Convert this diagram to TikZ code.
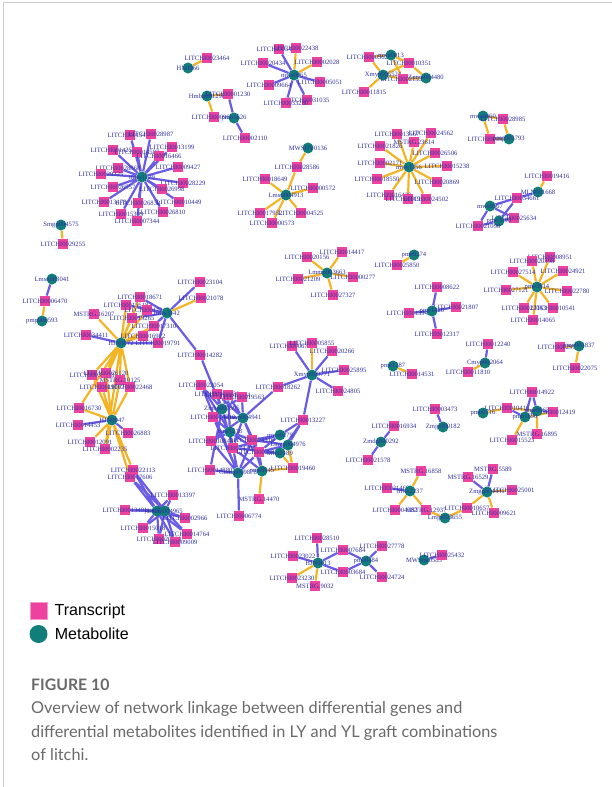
\documentclass[tikz,border=0pt]{standalone}
\usepackage{fontspec}
\setmainfont{Liberation Serif}
\newfontfamily\legfont{Liberation Sans}
\newfontfamily\capfont{Lato}
\usetikzlibrary{positioning}

\definecolor{trpink}{RGB}{238,66,160}
\definecolor{mbteal}{RGB}{18,126,122}
\definecolor{eblue}{RGB}{106,92,228}
\definecolor{eyel}{RGB}{243,181,38}
\definecolor{lblc}{RGB}{46,46,160}
\definecolor{capgray}{RGB}{105,105,105}
\definecolor{framegray}{RGB}{205,205,205}

\pgfdeclarelayer{edges}
\pgfsetlayers{edges,main}

\begin{document}
\begin{tikzpicture}[x=1pt, y=-1pt,
    tr/.style={rectangle, fill=trpink, minimum size=10.5pt, inner sep=0pt, label={[lbl]center:#1}},
    mb/.style={circle, fill=mbteal, minimum size=11pt, inner sep=0pt, label={[lbl]center:#1}},
    lbl/.style={font=\fontsize{6.6}{7}\selectfont, text=lblc, inner sep=0pt},
    be/.style={draw=eblue, line width=2.2pt},
    ye/.style={draw=eyel, line width=2.2pt},
    legtxt/.style={font=\legfont\fontsize{16}{18}\selectfont, anchor=west, inner sep=0pt},
    captxt/.style={font=\capfont\fontsize{16.3}{19}\selectfont, text=capgray, anchor=base west, inner sep=0pt}
]

\useasboundingbox (0,0) rectangle (612,787);
\draw[framegray, line width=1pt] (3.5,787) -- (3.5,2.5) -- (612,2.5);

% HN0066 pair
\node[mb=HN0066] (hn66) at (188,68) {};
\node[tr=LITCHI0023464] (t23464) at (207,58) {};

% Hmbn group
\node[mb=Hmbn001296] (hmbn) at (207,96) {};
\node[tr=LITCHI0001230] (t01230) at (228,94) {};
\node[tr=LITCHI0009613] (t09613) at (214,117) {};
\node[mb=pmb1626] (pmb1626) at (234,118) {};
\node[tr=LITCHI0002110] (t02110) at (245,138) {};

% mws1729 star
\node[tr=LITCHI0013476] (t13476) at (130,135) {};
\node[tr=LITCHI0028987] (t28987) at (151,134) {};
\node[tr=LITCHI0013199] (t13199) at (172,147) {};
\node[tr=LITCHI0014259] (t14259) at (113,150) {};
\node[tr=LITCHI0014587] (t14587) at (137,152) {};
\node[tr=LITCHI0016466] (t16466) at (159,156) {};
\node[tr=LITCHI0009427] (t09427) at (178,167) {};
\node[tr=LITCHI0028868] (t28868) at (118,168) {};
\node[tr=LITCHI0029225] (t29225) at (101,174) {};
\node[tr=LITCHI0028229] (t28229) at (183,183) {};
\node[tr=LITCHI0026998] (t26998) at (162,189) {};
\node[tr=LITCHI0026557] (t26557) at (113,187) {};
\node[tr=LITCHI0010449] (t10449) at (179,202) {};
\node[tr=LITCHI0026832] (t26832) at (138,203) {};
\node[tr=LITCHI0013478] (t13478) at (104,202) {};
\node[tr=LITCHI0026810] (t26810) at (163,212) {};
\node[tr=LITCHI0015399] (t15399) at (121,214) {};
\node[tr=LITCHI0007344] (t07344) at (137,221) {};
\node[mb=mws1729] (mws1729) at (142,177) {};

% Smgp pair
\node[mb=Smgp004575] (smgp) at (61,225) {};
\node[tr=LITCHI0029255] (t29255) at (63,244) {};

% mws0965 star
\node[tr=LITCHI0034185] (t34185) at (279,49) {};
\node[tr=LITCHI0022438] (t22438) at (296,48) {};
\node[tr=LITCHI0002028] (t02028) at (317,62) {};
\node[tr=LITCHI0020434] (t20434) at (263,63) {};
\node[tr=LITCHI0005051] (t05051) at (320,82) {};
\node[tr=LITCHI0009664] (t09664) at (269,85) {};
\node[tr=LITCHI0031035] (t31035) at (307,100) {};
\node[tr=LITCHI0033280] (t33280) at (286,103) {};
\node[mb=mws0965] (mws0965) at (294,75) {};

% Xmyp group, top right
\node[tr=LITCHI0003624] (t03624) at (369,57) {};
\node[mb=mws0013] (mws0013) at (391,55) {};
\node[tr=LITCHI0010351] (t10351) at (409,63) {};
\node[mb=Xmyp006524] (xmyp6524) at (383,75) {};
\node[tr=LITCHI0021530] (t21530) at (403,79) {};
\node[mb=Zmyp004480] (zmyp) at (426,78) {};
\node[tr=LITCHI0011815] (t11815) at (364,92) {};

% square loop
\node[mb=mws0460] (mws0460) at (483,116) {};
\node[tr=LITCHI0028985] (t28985) at (503,119) {};
\node[tr=LITCHI0009366] (t09366) at (490,139) {};
\node[mb=pmp001793] (pmp1793) at (509,139) {};

% MWSHY0136 / Lmsn004913
\node[mb=MWSHY0136] (mwshy) at (308,148) {};
\node[tr=LITCHI0028586] (t28586) at (297,167) {};
\node[tr=LITCHI0018649] (t18649) at (265,179) {};
\node[tr=LITCHI0000572] (t00572) at (313,188) {};
\node[tr=LITCHI0017952] (t17952) at (260,213) {};
\node[tr=LITCHI0004525] (t04525) at (301,213) {};
\node[tr=LITCHI0000573] (t00573) at (272,223) {};
\node[mb=Lmsn004913] (lmsn4913) at (286,195) {};

% mws1356 star
\node[tr=LITCHI0013567] (t13567) at (397,134) {};
\node[tr=LITCHI0024562] (t24562) at (431,133) {};
\node[tr=MSTRG.23614] (ms23614) at (414,142) {};
\node[tr=LITCHI0021826] (t21826) at (380,146) {};
\node[tr=LITCHI0026506] (t26506) at (435,153) {};
\node[tr=LITCHI0002171] (t02171) at (380,163) {};
\node[tr=LITCHI0015238] (t15238) at (447,166) {};
\node[tr=LITCHI0018550] (t18550) at (377,179) {};
\node[tr=LITCHI0020869] (t20869) at (437,182) {};
\node[tr=LITCHI0016420] (t16420) at (389,195) {};
\node[tr=LITCHI0019281] (t19281) at (408,199) {};
\node[tr=LITCHI0024502] (t24502) at (426,199) {};
\node[mb=mws1356] (mws1356) at (409,167) {};

% MLN001668 group
\node[tr=LITCHI0019416] (t19416) at (547,176) {};
\node[mb=MLN001668] (mln) at (538,192) {};
\node[tr=LITCHI0034661] (t34661) at (517,198) {};
\node[mb=mws0567] (mws0567) at (490,206) {};
\node[tr=LITCHI0025634] (t25634) at (514,218) {};
\node[mb=pme3090] (pme3090) at (499,221) {};
\node[tr=LITCHI0021090] (t21090) at (478,226) {};

% Lmsn003041 chain
\node[mb=Lmsn003041] (lmsn3041) at (52,279) {};
\node[tr=LITCHI0006470] (t06470) at (45,301) {};
\node[mb=pmp000593] (pmp593) at (42,321) {};

% big left complex
\node[tr=LITCHI0023104] (t23104) at (200,282) {};
\node[tr=LITCHI0021078] (t21078) at (201,298) {};
\node[tr=LITCHI0018671] (t18671) at (140,297) {};
\node[tr=LITCHI0015618] (t15618) at (126,305) {};
\node[tr=LITCHI0017215] (t17215) at (147,310) {};
\node[tr=MSTRG.16207] (ms16207) at (94,314) {};
\node[tr=LITCHI0019265] (t19265) at (132,318) {};
\node[tr=LITCHI0017310] (t17310) at (154,326) {};
\node[tr=LITCHI0034411] (t34411) at (86,335) {};
\node[tr=LITCHI0016922] (t16922) at (143,336) {};
\node[tr=LITCHI0019791] (t19791) at (158,343) {};
\node[tr=LITCHI0014282] (t14282) at (200,355) {};
\node[tr=LITCHI0030718] (t30718) at (92,375) {};
\node[tr=LITCHI0026120] (t26120) at (106,373) {};
\node[tr=MSTRG.10125] (ms10125) at (120,380) {};
\node[tr=LITCHI0019097] (t19097) at (102,387) {};
\node[tr=LITCHI0022468] (t22468) at (130,387) {};
\node[tr=LITCHI0016730] (t16730) at (79,408) {};
\node[tr=LITCHI0014453] (t14453) at (78,425) {};
\node[tr=LITCHI0026883] (t26883) at (128,433) {};
\node[tr=LITCHI0012091] (t12091) at (90,442) {};
\node[tr=LITCHI0002235] (t02235) at (105,449) {};
\node[tr=LITCHI0022113] (t22113) at (133,470) {};
\node[tr=LITCHI0017606] (t17606) at (130,477) {};
\node[tr=LITCHI0013397] (t13397) at (173,495) {};
\node[tr=LITCHI0013491] (t13491) at (125,510) {};
\node[tr=LITCHI0002966] (t02966) at (185,518) {};
\node[tr=LITCHI0015018] (t15018) at (143,528) {};
\node[tr=LITCHI0014764] (t14764) at (187,534) {};
\node[tr=LITCHI0020588] (t20588) at (159,539) {};
\node[tr=LITCHI0009009] (t09009) at (175,542) {};
\node[mb=mws3142] (m3142) at (167,313) {};
\node[mb=HJN0072] (hjn72) at (121,343) {};
\node[mb=HJN0047] (hjn47) at (112,420) {};
\node[mb=pme3009] (pme3009) at (157,511) {};
\node[mb=Lmhn004965] (lmhn) at (165,511) {};

% dense middle cluster
\node[tr=LITCHI0022054] (t22054) at (201,385) {};
\node[tr=LITCHI0019130] (t19130) at (217,394) {};
\node[tr=LITCHI0019354] (t19354) at (228,395) {};
\node[tr=LITCHI0019563] (t19563) at (242,397) {};
\node[tr=LITCHI0014010] (t14010) at (213,417) {};
\node[tr=LITCHI0010843] (t10843) at (211,441) {};
\node[tr=LITCHI0024316] (t24316) at (252,440) {};
\node[tr=LITCHI0024702] (t24702) at (233,448) {};
\node[tr=LITCHI0025980] (t25980) at (259,452) {};
\node[tr=LITCHI0014880] (t14880) at (210,470) {};
\node[tr=LITCHI0018262] (t18262) at (278,387) {};
\node[tr=LITCHI0013227] (t13227) at (303,420) {};
\node[tr=LITCHI0019460] (t19460) at (293,468) {};
\node[tr=MSTRG.14470] (ms14470) at (259,499) {};
\node[tr=LITCHI0006774] (t06774) at (239,516) {};
\node[mb=Zmhp003595] (zmhp) at (222,409) {};
\node[mb=Hmyp004941] (hmyp) at (243,418) {};
\node[mb=pme1218] (pme1218) at (230,432) {};
\node[mb=mws0279] (mws0279) at (280,435) {};
\node[mb=Lmzp004976] (lmzp) at (288,445) {};
\node[mb=mws0189] (mws0189) at (280,453) {};
\node[mb=Cmmp009878] (cmmp) at (238,473) {};
\node[mb=pme0945] (pme0945) at (262,471) {};

% Xmyp000771 star
\node[tr=LITCHI0006770] (t06770) at (292,346) {};
\node[tr=LITCHI0005855] (t05855) at (312,343) {};
\node[tr=LITCHI0020266] (t20266) at (332,351) {};
\node[tr=LITCHI0025895] (t25895) at (344,370) {};
\node[tr=LITCHI0024805] (t24805) at (338,391) {};
\node[mb=Xmyp000771] (xmyp771) at (312,375) {};

% Lmmp003663 star
\node[tr=LITCHI0014417] (t14417) at (342,252) {};
\node[tr=LITCHI0020156] (t20156) at (307,257) {};
\node[tr=LITCHI0000277] (t00277) at (353,277) {};
\node[tr=LITCHI0021209] (t21209) at (298,279) {};
\node[tr=LITCHI0027327] (t27327) at (333,295) {};
\node[mb=Lmmp003663] (lmmp) at (327,273) {};

% small pairs, right half
\node[mb=pme0274] (pme0274) at (414,255) {};
\node[tr=LITCHI0025850] (t25850) at (397,265) {};
\node[tr=LITCHI0008622] (t08622) at (437,287) {};
\node[tr=LITCHI0021807] (t21807) at (456,307) {};
\node[tr=LITCHI0013943] (t13943) at (409,313) {};
\node[tr=LITCHI0012317] (t12317) at (437,334) {};
\node[mb=pme1420] (pme1420) at (432,311) {};

% pme3914 star
\node[tr=LITCHI0008951] (t08951) at (550,257) {};
\node[tr=LITCHI0020398] (t20398) at (532,261) {};
\node[tr=LITCHI0027514] (t27514) at (513,272) {};
\node[tr=LITCHI0024921] (t24921) at (563,271) {};
\node[tr=LITCHI0027121] (t27121) at (506,290) {};
\node[tr=LITCHI0022780] (t22780) at (567,291) {};
\node[tr=LITCHI0027063] (t27063) at (524,308) {};
\node[tr=LITCHI0010541] (t10541) at (553,308) {};
\node[tr=LITCHI0014065] (t14065) at (533,320) {};
\node[mb=pme3914] (pme3914) at (537,287) {};

\node[tr=LITCHI0029187] (t29187) at (560,347) {};
\node[mb=pmn001837] (pmn1837) at (579,346) {};
\node[tr=LITCHI0022075] (t22075) at (575,368) {};

\node[tr=LITCHI0012240] (t12240) at (488,344) {};
\node[mb=Cmyp002064] (cmyp) at (485,363) {};
\node[tr=LITCHI0011810] (t11810) at (468,372) {};

\node[mb=pme1287] (pme1287) at (393,366) {};
\node[tr=LITCHI0014531] (t14531) at (412,374) {};

\node[tr=LITCHI0003473] (t03473) at (435,409) {};
\node[mb=Zmjp000182] (zmjp) at (443,427) {};

% pme0963 group
\node[tr=LITCHI0014922] (t14922) at (532,392) {};
\node[tr=LITCHI0010416] (t10416) at (507,408) {};
\node[tr=LITCHI0012419] (t12419) at (553,412) {};
\node[tr=MSTRG.16895] (ms16895) at (537,434) {};
\node[tr=LITCHI0015523] (t15523) at (512,440) {};
\node[mb=pmb0716] (pmb0716) at (483,413) {};
\node[mb=pme0963] (pme0963) at (537,411) {};
\node[mb=pmb1690] (pmb1690) at (525,417) {};

\node[tr=LITCHI0016934] (t16934) at (394,426) {};
\node[mb=Zmdp000292] (zmdp) at (381,442) {};
\node[tr=LITCHI0021578] (t21578) at (368,460) {};

% mws2237 / Zmgp chain
\node[tr=MSTRG.16858] (ms16858) at (421,471) {};
\node[tr=LITCHI0021468] (t21468) at (387,488) {};
\node[tr=LITCHI0004582] (t04582) at (395,510) {};
\node[tr=MSTRG.12937] (ms12937) at (426,510) {};
\node[tr=LITCHI0010657] (t10657) at (467,508) {};
\node[tr=MSTRG.16529] (ms16529) at (468,477) {};
\node[tr=MSTRG.5589] (ms5589) at (493,469) {};
\node[tr=LITCHI0025001] (t25001) at (512,490) {};
\node[tr=LITCHI0009621] (t09621) at (494,513) {};
\node[mb=mws2237] (mws2237) at (410,491) {};
\node[mb=Lmjp003655] (lmjp) at (445,518) {};
\node[mb=Zmgp004441] (zmgp) at (487,492) {};

\node[mb=MWSmt0583] (mwsmt) at (424,560) {};
\node[tr=LITCHI0025432] (t25432) at (442,555) {};

% HJN0013 / pme0484
\node[tr=LITCHI0028510] (t28510) at (317,538) {};
\node[tr=LITCHI0023022] (t23022) at (293,556) {};
\node[tr=LITCHI0007684] (t07684) at (343,550) {};
\node[tr=LITCHI0003684] (t03684) at (343,572) {};
\node[tr=LITCHI0023230] (t23230) at (292,578) {};
\node[tr=MSTRG.9032] (ms9032) at (315,586) {};
\node[tr=LITCHI0027778] (t27778) at (382,546) {};
\node[tr=LITCHI0024724] (t24724) at (382,577) {};
\node[mb=HJN0013] (hjn13) at (318,563) {};
\node[mb=pme0484] (pme0484) at (366,561) {};

% Edges
\begin{pgfonlayer}{edges}
\draw[ye] (hn66) -- (t23464);
\draw[ye] (hmbn) -- (t01230) (hmbn) -- (t09613);
\draw[be] (t01230) -- (pmb1626) -- (t02110);

\draw[be] (mws1729) -- (t13476) (mws1729) -- (t28987) (mws1729) -- (t13199) (mws1729) -- (t14259)
          (mws1729) -- (t14587) (mws1729) -- (t16466) (mws1729) -- (t09427) (mws1729) -- (t28868)
          (mws1729) -- (t29225) (mws1729) -- (t28229) (mws1729) -- (t26998) (mws1729) -- (t26557)
          (mws1729) -- (t10449) (mws1729) -- (t26832) (mws1729) -- (t13478) (mws1729) -- (t26810)
          (mws1729) -- (t15399) (mws1729) -- (t07344);
\draw[ye] (smgp) -- (t29255);

\draw[be] (mws0965) -- (t34185) (mws0965) -- (t20434) (mws0965) -- (t05051) (mws0965) -- (t09664)
          (mws0965) -- (t31035) (mws0965) -- (t33280);
\draw[ye] (mws0965) -- (t22438) (mws0965) -- (t02028);

\draw[ye] (t03624) -- (xmyp6524) (t03624) -- (mws0013) (mws0013) -- (t10351) (mws0013) -- (t21530)
          (xmyp6524) -- (t10351) (xmyp6524) -- (t21530) (xmyp6524) -- (t11815)
          (t10351) -- (zmyp) (t21530) -- (zmyp);

\draw[ye] (mws0460) -- (t28985) -- (pmp1793) -- (t09366) -- (mws0460);

\draw[ye] (mwshy) -- (t28586) (lmsn4913) -- (t28586) (lmsn4913) -- (t18649) (lmsn4913) -- (t00572)
          (lmsn4913) -- (t17952) (lmsn4913) -- (t04525) (lmsn4913) -- (t00573);

\draw[ye] (mws1356) -- (t13567) (mws1356) -- (t24562) (mws1356) -- (ms23614) (mws1356) -- (t21826)
          (mws1356) -- (t26506) (mws1356) -- (t02171) (mws1356) -- (t15238) (mws1356) -- (t18550)
          (mws1356) -- (t20869) (mws1356) -- (t16420) (mws1356) -- (t19281) (mws1356) -- (t24502);

\draw[ye] (t19416) -- (mln);
\draw[be] (mln) -- (t34661) (t34661) -- (mws0567) (t34661) -- (pme3090) (mws0567) -- (t25634)
          (mws0567) -- (t21090) (pme3090) -- (t25634) (pme3090) -- (t21090);

\draw[be] (lmsn3041) -- (t06470);
\draw[ye] (t06470) -- (pmp593);

% left complex
\draw[be] (m3142) -- (t23104) (m3142) -- (t18671) (m3142) -- (t15618) (m3142) -- (t17215)
          (m3142) -- (t19265) (m3142) -- (t17310) (m3142) -- (t16922) (m3142) -- (t19791)
          (m3142) -- (t14282);
\draw[ye] (m3142) -- (t21078);
\draw[ye] (hjn72) -- (t18671) (hjn72) -- (t15618) (hjn72) -- (t17215) (hjn72) -- (ms16207)
          (hjn72) -- (t19265) (hjn72) -- (t17310) (hjn72) -- (t16922) (hjn72) -- (t30718)
          (hjn72) -- (t26120) (hjn72) -- (ms10125) (hjn72) -- (t19097) (hjn72) -- (t22468)
          (hjn72) -- (t16730) (hjn72) -- (t02235);
\draw[be] (hjn72) -- (t34411) (hjn72) -- (t19791);
\draw[ye] (hjn47) -- (t30718) (hjn47) -- (t26120) (hjn47) -- (ms10125) (hjn47) -- (t19097)
          (hjn47) -- (t22468) (hjn47) -- (t16730) (hjn47) -- (t12091) (hjn47) -- (t02235)
          (hjn47) -- (t22113) (hjn47) -- (t17606);
\draw[be] (hjn47) -- (t14453) (hjn47) -- (t26883);
\draw[be] (pme3009) -- (t22113) (pme3009) -- (t17606) (pme3009) -- (t13397) (pme3009) -- (t13491)
          (pme3009) -- (t02966) (pme3009) -- (t15018) (pme3009) -- (t14764) (pme3009) -- (t20588)
          (pme3009) -- (t09009);
\draw[be] (lmhn) -- (t22113) (lmhn) -- (t17606) (lmhn) -- (t13397) (lmhn) -- (t13491)
          (lmhn) -- (t02966) (lmhn) -- (t15018) (lmhn) -- (t14764) (lmhn) -- (t20588)
          (lmhn) -- (t09009);

% dense middle cluster
\draw[be] (zmhp) -- (t14282) (zmhp) -- (t22054) (zmhp) -- (t19130) (zmhp) -- (t19354) (zmhp) -- (t19563)
          (zmhp) -- (t14010) (zmhp) -- (t14880) (zmhp) -- (t24702);
\draw[be] (hmyp) -- (t19130) (hmyp) -- (t19354) (hmyp) -- (t19563) (hmyp) -- (t14010) (hmyp) -- (t24316)
          (hmyp) -- (t24702) (hmyp) -- (t25980) (hmyp) -- (t18262) (hmyp) -- (t10843);
\draw[be] (pme1218) -- (t22054) (pme1218) -- (t14010) (pme1218) -- (t24316) (pme1218) -- (t24702)
          (pme1218) -- (t25980) (pme1218) -- (t10843) (pme1218) -- (t19354);
\draw[be] (mws0279) -- (t13227) (mws0279) -- (t24316) (mws0279) -- (t25980) (mws0279) -- (t24702);
\draw[be] (lmzp) -- (t13227) (lmzp) -- (t24316) (lmzp) -- (t25980);
\draw[be] (mws0189) -- (t13227) (mws0189) -- (t25980) (mws0189) -- (t24702);
\draw[ye] (lmzp) -- (t19460) (mws0189) -- (t19460) (pme0945) -- (t19460) (pme0945) -- (ms14470);
\draw[be] (cmmp) -- (t14880) (cmmp) -- (t10843) (cmmp) -- (t24702) (cmmp) -- (t24316) (cmmp) -- (t06774)
          (cmmp) -- (t25980) (cmmp) -- (t14010) (cmmp) -- (t22054);
\draw[be] (pme0945) -- (t24316) (pme0945) -- (t25980) (pme0945) -- (t24702);

\draw[be] (xmyp771) -- (t06770) (xmyp771) -- (t20266) (xmyp771) -- (t25895) (xmyp771) -- (t24805)
          (xmyp771) -- (t18262) (xmyp771) -- (t13227);
\draw[ye] (xmyp771) -- (t05855);

\draw[ye] (lmmp) -- (t14417) (lmmp) -- (t20156) (lmmp) -- (t00277) (lmmp) -- (t21209) (lmmp) -- (t27327);

\draw[ye] (pme0274) -- (t25850);
\draw[be] (pme1420) -- (t08622) (pme1420) -- (t21807) (pme1420) -- (t13943) (pme1420) -- (t12317);

\draw[ye] (pme3914) -- (t08951) (pme3914) -- (t20398) (pme3914) -- (t27514) (pme3914) -- (t24921)
          (pme3914) -- (t27121) (pme3914) -- (t22780) (pme3914) -- (t27063) (pme3914) -- (t10541)
          (pme3914) -- (t14065);

\draw[ye] (t29187) -- (pmn1837) -- (t22075);
\draw[be] (t12240) -- (cmyp);
\draw[ye] (cmyp) -- (t11810);
\draw[ye] (pme1287) -- (t14531);
\draw[be] (t03473) -- (zmjp);

\draw[ye] (pmb0716) -- (t10416) (t10416) -- (pme0963) (pme0963) -- (ms16895) (pmb1690) -- (t15523)
          (pmb1690) -- (t12419);
\draw[be] (t14922) -- (pme0963) (t14922) -- (pmb1690) (pme0963) -- (t12419) (t10416) -- (pmb1690);

\draw[be] (t16934) -- (zmdp) -- (t21578);

\draw[ye] (mws2237) -- (ms16858) (mws2237) -- (t04582) (mws2237) -- (ms12937) (ms12937) -- (lmjp)
          (lmjp) -- (t10657) (t10657) -- (zmgp) (zmgp) -- (t25001) (zmgp) -- (t09621);
\draw[be] (mws2237) -- (t21468) (zmgp) -- (ms16529) (zmgp) -- (ms5589);

\draw[be] (mwsmt) -- (t25432);

\draw[be] (hjn13) -- (t28510) (hjn13) -- (t23022) (hjn13) -- (t07684) (hjn13) -- (t03684);
\draw[ye] (hjn13) -- (t23230) (hjn13) -- (ms9032);
\draw[be] (pme0484) -- (t07684) (pme0484) -- (t03684) (pme0484) -- (t27778) (pme0484) -- (t24724);
\end{pgfonlayer}

% Legend
\node[rectangle, fill=trpink, draw=trpink!55, line width=0.8pt, minimum size=17pt, inner sep=0pt] (legtr) at (38.5,611) {};
\node[circle, fill=mbteal, minimum size=18pt, inner sep=0pt] (legmb) at (38.5,634) {};
\node[legtxt, right=7pt of legtr] (legtrtxt) {Transcript};
\node[legtxt, right=7pt of legmb] (legmbtxt) {Metabolite};

% Caption
\node[captxt, font=\capfont\bfseries\fontsize{15.8}{18}\selectfont] (figno) at (31,690) {FIGURE 10};
\node[captxt] (cap1) at (31,713) {Overview of network linkage between differential genes and};
\node[captxt] (cap2) at (31,737) {differential metabolites identified in LY and YL graft combinations};
\node[captxt] (cap3) at (31,760) {of litchi.};

\end{tikzpicture}
\end{document}
